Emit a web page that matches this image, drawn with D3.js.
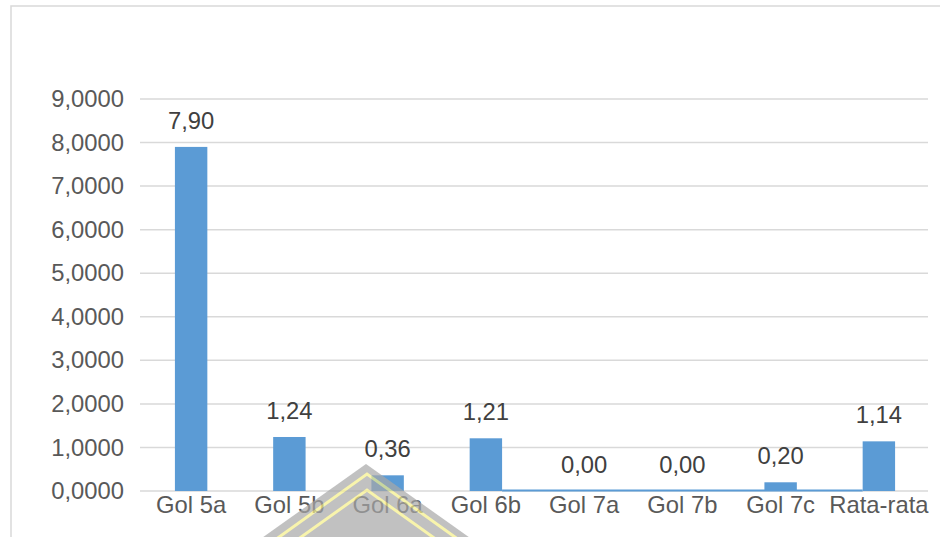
<!DOCTYPE html>
<html>
<head>
<meta charset="utf-8">
<script src="https://cdn.jsdelivr.net/npm/d3@7"></script>
<style>
  html, body { margin: 0; padding: 0; background: #fff; }
  svg { display: block; font-family: "Liberation Sans", Arial, sans-serif; }
</style>
</head>
<body>
<svg id="chart" width="940" height="537"></svg>
<script>
// Categories and values
const categories = ["Gol 5a", "Gol 5b", "Gol 6a", "Gol 6b", "Gol 7a", "Gol 7b", "Gol 7c", "Rata-rata"];
const values = [7.90, 1.24, 0.36, 1.21, 0.00, 0.00, 0.20, 1.14];
const valueLabels = ["7,90", "1,24", "0,36", "1,21", "0,00", "0,00", "0,20", "1,14"];
const yTicks = [0, 1, 2, 3, 4, 5, 6, 7, 8, 9];
const yTickLabels = ["0,0000", "1,0000", "2,0000", "3,0000", "4,0000", "5,0000", "6,0000", "7,0000", "8,0000", "9,0000"];
// Stretch of the baseline trace running between two categories
const baseTrace = ["Gol 6b", "Rata-rata"];

const svg = d3.select("#chart");
const W = 940, H = 537;
const margin = { left: 142, right: 12, top: 99, bottom: 46 };
const plotW = W - margin.left - margin.right;
const plotH = H - margin.top - margin.bottom;
const fontSize = 23.8;

// Outer chart frame
svg.append("rect")
  .attr("x", 11).attr("y", 6)
  .attr("width", W).attr("height", H)
  .attr("fill", "#fff")
  .attr("stroke", "#d9d9d9").attr("stroke-width", 1.5);

const g = svg.append("g").attr("transform", `translate(${margin.left},${margin.top})`);

const x = d3.scaleBand().domain(categories).range([0, plotW]).paddingInner(0.67).paddingOuter(0.335);
const y = d3.scaleLinear().domain([0, 9]).range([plotH, 0]);

// Horizontal gridlines
g.append("g")
  .selectAll("line")
  .data(yTicks)
  .join("line")
  .attr("x1", -2).attr("x2", plotW)
  .attr("y1", d => y(d)).attr("y2", d => y(d))
  .attr("stroke", "#d9d9d9").attr("stroke-width", 1.5);

// Y axis tick labels
const yAxis = d3.axisLeft(y).tickValues(yTicks)
  .tickFormat((d, i) => yTickLabels[i]).tickSize(0).tickPadding(18);
g.append("g").call(yAxis)
  .call(s => s.select(".domain").remove())
  .selectAll("text")
  .attr("font-size", fontSize)
  .attr("font-family", "Liberation Sans, Arial, sans-serif")
  .attr("fill", "#595959");

// X axis category labels
const xAxis = d3.axisBottom(x).tickSize(0).tickPadding(5);
g.append("g").attr("transform", `translate(0,${plotH})`).call(xAxis)
  .call(s => s.select(".domain").remove())
  .selectAll("text")
  .attr("font-size", fontSize)
  .attr("font-family", "Liberation Sans, Arial, sans-serif")
  .attr("fill", "#595959");

// Bars
g.append("g")
  .selectAll("rect")
  .data(values)
  .join("rect")
  .attr("x", (d, i) => x(categories[i]))
  .attr("y", d => y(d))
  .attr("width", x.bandwidth())
  .attr("height", d => y(0) - y(d))
  .attr("fill", "#5b9bd5");

// Baseline trace between categories
g.append("line")
  .attr("x1", x(baseTrace[0]) + x.bandwidth())
  .attr("x2", x(baseTrace[1]))
  .attr("y1", y(0) - 0.5).attr("y2", y(0) - 0.5)
  .attr("stroke", "#5b9bd5").attr("stroke-width", 1.8);

// Value labels
g.append("g")
  .selectAll("text")
  .data(values)
  .join("text")
  .attr("x", (d, i) => x(categories[i]) + x.bandwidth() / 2)
  .attr("y", d => y(d) - 18)
  .attr("text-anchor", "middle")
  .attr("font-size", fontSize)
  .attr("fill", "#404040")
  .text((d, i) => valueLabels[i]);

// Faint emblem in the lower area
const wm = svg.append("g").attr("opacity", 0.7);
wm.append("path")
  .attr("d", "M366,464 L252,545 L480,545 Z")
  .attr("fill", "#a8a8a8");
wm.append("path")
  .attr("d", "M268,545 L367,474 L466,545")
  .attr("fill", "none").attr("stroke", "#f6f08a").attr("stroke-width", 3);
wm.append("path")
  .attr("d", "M290,545 L367,490 L444,545")
  .attr("fill", "none").attr("stroke", "#f6f08a").attr("stroke-width", 3);
</script>
</body>
</html>
